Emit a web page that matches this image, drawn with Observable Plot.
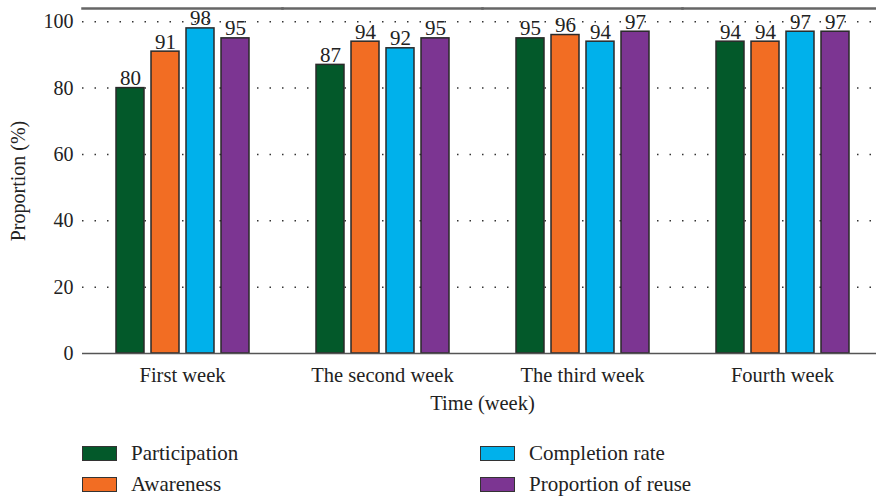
<!DOCTYPE html>
<html>
<head>
<meta charset="utf-8">
<script src="https://cdn.jsdelivr.net/npm/d3@7"></script>
<script src="https://cdn.jsdelivr.net/npm/@observablehq/plot@0.6"></script>
<style>
  body { margin: 0; background: #fff; font-family: "Liberation Serif", "DejaVu Serif", serif; color: #222; }
  #chart svg { display: block; }
  .legend { display: grid; grid-template-rows: repeat(2, 31px); grid-auto-flow: column;
            grid-template-columns: 398px 300px; margin: 13px 0 0 82px; font-size: 21px; }
  .legend div { display: flex; align-items: center; }
  .legend span.sw { width: 35px; height: 15px; border: 1.5px solid #333; margin-right: 14px; box-sizing: border-box; }
</style>
</head>
<body>
<div id="chart"></div>
<div class="legend" id="legend"></div>
<script>
// Weekly survey proportions (%)
const weeks = ["First week", "The second week", "The third week", "Fourth week"];
const series = ["Participation", "Awareness", "Completion rate", "Proportion of reuse"];
const colors = ["#03592a", "#f26d23", "#00b1eb", "#7c3592"];
const participation = [80, 87, 95, 94];
const awareness = [91, 94, 96, 94];
const completion = [98, 92, 94, 97];
const reuse = [95, 95, 97, 97];
const yTicks = [0, 20, 40, 60, 80, 100];

const valuesBySeries = [participation, awareness, completion, reuse];
const rows = [];
weeks.forEach((week, i) => {
  series.forEach((s, j) => rows.push({week, series: s, value: valuesBySeries[j][i]}));
});

const font = "Liberation Serif, DejaVu Serif, serif";

const chart = Plot.plot({
  width: 876,
  height: 425,
  marginLeft: 82,
  marginRight: -6,
  marginTop: 8,
  marginBottom: 72,
  style: {fontFamily: font, fontSize: "20px", color: "#222", background: "#fff"},
  fx: {domain: weeks, padding: 0},
  x: {domain: series, paddingInner: 0.21, paddingOuter: 0.9, axis: null},
  y: {domain: [0, 104]},
  color: {domain: series, range: colors},
  marks: [
    Plot.gridY(yTicks.filter(d => d > 0), {stroke: "#333", strokeOpacity: 1, strokeWidth: 1.5, strokeDasharray: "1.5,11"}),
    Plot.barY(rows, {fx: "week", x: "series", y: "value", fill: "series", stroke: "#2a2a2a", strokeWidth: 1.5}),
    Plot.text(rows, {fx: "week", x: "series", y: "value", text: d => String(d.value), lineAnchor: "bottom", dy: -3, fontSize: 21, fill: "#222"}),
    Plot.ruleY([0], {stroke: "#555", strokeWidth: 1.5}),
    Plot.frame({anchor: "top", stroke: "#666", strokeWidth: 2.5}),
    Plot.axisY(yTicks, {tickSize: 0, tickPadding: 9, line: true, stroke: "#333", label: "Proportion (%)", labelAnchor: "center", labelArrow: "none", labelOffset: 72, fontSize: 20}),
    Plot.axisFx({anchor: "bottom", tickSize: 0, tickPadding: 14, label: "Time (week)", labelAnchor: "center", labelArrow: "none", labelOffset: 56, fontSize: 20.5})
  ]
});
document.getElementById("chart").appendChild(chart);

// Legend built from the series and colour arrays
const legend = document.getElementById("legend");
series.forEach((s, i) => {
  const item = document.createElement("div");
  const sw = document.createElement("span");
  sw.className = "sw";
  sw.style.background = colors[i];
  item.appendChild(sw);
  item.appendChild(document.createTextNode(s));
  legend.appendChild(item);
});
</script>
</body>
</html>
